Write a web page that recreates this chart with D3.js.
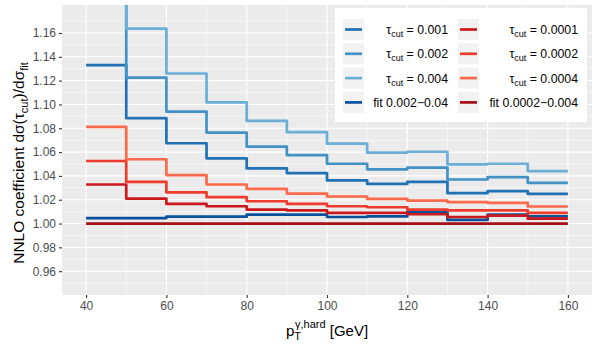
<!DOCTYPE html>
<html>
<head>
<meta charset="utf-8">
<script src="https://cdn.jsdelivr.net/npm/d3@7"></script>
<style>
body{margin:0;background:#fff;}
text{font-family:"Liberation Sans",Arial,sans-serif;}
</style>
</head>
<body>
<svg id="chart" width="600" height="350"></svg>
<script>
// bin edges (pT, GeV)
var edges = [40,50,60,70,80,90,100,110,120,130,140,150,160];

// one value per bin
var tau001 = [1.133,1.0885,1.0674,1.0548,1.0463,1.0424,1.0362,1.0333,1.035,1.0255,1.0272,1.0249];
var tau002 = [1.21,1.1225,1.094,1.0764,1.0646,1.0575,1.0502,1.0455,1.0469,1.037,1.039,1.0342];
var tau004 = [1.25,1.1636,1.126,1.1017,1.0862,1.0767,1.0671,1.0595,1.0603,1.0497,1.0502,1.044];
var fitBlue = [1.0046,1.0046,1.0058,1.0058,1.0075,1.0075,1.0055,1.006,1.0097,1.003,1.0075,1.006];
var tau0001 = [1.0328,1.021,1.0165,1.0145,1.0117,1.011,1.009,1.009,1.0078,1.0055,1.0067,1.0041];
var tau0002 = [1.0525,1.035,1.0261,1.0221,1.0187,1.0165,1.0145,1.0137,1.0117,1.011,1.011,1.009];
var tau0004 = [1.0812,1.054,1.0407,1.0328,1.0291,1.0252,1.0227,1.0207,1.0193,1.0179,1.0173,1.0143];
var fitRed = [1.0,1.0,1.0,1.0,1.0,1.0,1.0,1.0,1.0,1.0,1.0,1.0];

var xTicks = [40,60,80,100,120,140,160];
var yTicks = [0.96,0.98,1.00,1.02,1.04,1.06,1.08,1.10,1.12,1.14,1.16];

// legend order (column-wise, like ggplot)
var series = [
  {kind:"tau", val:"0.001", data:tau001, color:"#2171b5"},
  {kind:"tau", val:"0.002", data:tau002, color:"#4292c6"},
  {kind:"tau", val:"0.004", data:tau004, color:"#6baed6"},
  {kind:"fit", val:"0.002\u22120.04", data:fitBlue, color:"#08519c"},
  {kind:"tau", val:"0.0001", data:tau0001, color:"#cb181d"},
  {kind:"tau", val:"0.0002", data:tau0002, color:"#ef3b2c"},
  {kind:"tau", val:"0.0004", data:tau0004, color:"#fb6a4a"},
  {kind:"fit", val:"0.0002\u22120.004", data:fitRed, color:"#a50f15"}
];

var panel = {left:62, right:592, top:5, bottom:295};

var xScale = d3.scaleLinear().domain([34,166]).range([panel.left,panel.right]);
var yScale = d3.scaleLinear().domain([0.94,1.1835]).range([panel.bottom,panel.top]);

var svg = d3.select("#chart");

svg.append("defs").append("clipPath").attr("id","clip")
  .append("rect")
  .attr("x",panel.left).attr("y",panel.top)
  .attr("width",panel.right-panel.left).attr("height",panel.bottom-panel.top);

svg.append("rect")
  .attr("x",panel.left).attr("y",panel.top)
  .attr("width",panel.right-panel.left).attr("height",panel.bottom-panel.top)
  .attr("fill","#ebebeb");

// grid lines
var grid = svg.append("g");
var yMinor = d3.range(0.95,1.18,0.02);
grid.selectAll(".ymin").data(yMinor).enter().append("line")
  .attr("x1",panel.left).attr("x2",panel.right)
  .attr("y1",function(d){return yScale(d);}).attr("y2",function(d){return yScale(d);})
  .attr("stroke","#fff").attr("stroke-width",0.55);
grid.selectAll(".xmin").data([50,70,90,110,130,150]).enter().append("line")
  .attr("y1",panel.top).attr("y2",panel.bottom)
  .attr("x1",function(d){return xScale(d);}).attr("x2",function(d){return xScale(d);})
  .attr("stroke","#fff").attr("stroke-width",0.55);
grid.selectAll(".ymaj").data(yTicks).enter().append("line")
  .attr("x1",panel.left).attr("x2",panel.right)
  .attr("y1",function(d){return yScale(d);}).attr("y2",function(d){return yScale(d);})
  .attr("stroke","#fff").attr("stroke-width",1.1);
grid.selectAll(".xmaj").data(xTicks).enter().append("line")
  .attr("y1",panel.top).attr("y2",panel.bottom)
  .attr("x1",function(d){return xScale(d);}).attr("x2",function(d){return xScale(d);})
  .attr("stroke","#fff").attr("stroke-width",1.1);

// step lines
var line = d3.line()
  .x(function(d){return xScale(d[0]);})
  .y(function(d){return yScale(d[1]);})
  .curve(d3.curveStepAfter);

var lines = svg.append("g").attr("clip-path","url(#clip)");
series.forEach(function(s){
  var pts = edges.map(function(e,i){
    return [e, s.data[Math.min(i,s.data.length-1)]];
  });
  lines.append("path")
    .attr("d",line(pts))
    .attr("fill","none")
    .attr("stroke",s.color)
    .attr("stroke-width",2.7)
    .attr("stroke-linejoin","round");
});

// axes
var xAxis = d3.axisBottom(xScale).tickValues(xTicks).tickSize(3).tickPadding(3)
  .tickFormat(d3.format("d"));
var gx = svg.append("g").attr("transform","translate(0,"+panel.bottom+")").call(xAxis);
var yAxis = d3.axisLeft(yScale).tickValues(yTicks).tickSize(3).tickPadding(3)
  .tickFormat(d3.format(".2f"));
var gy = svg.append("g").attr("transform","translate("+panel.left+",0)").call(yAxis);
[gx,gy].forEach(function(g){
  g.select(".domain").remove();
  g.selectAll(".tick line").attr("stroke","#333").attr("stroke-width",1.1);
  g.selectAll(".tick text").attr("fill","#4d4d4d").style("font-size","12px")
   .style("font-family","Liberation Sans, Arial, sans-serif");
});

// axis titles
var xt = svg.append("text")
  .attr("x",(panel.left+panel.right)/2).attr("y",336)
  .attr("text-anchor","middle").style("font-size","15px").attr("fill","#000");
xt.append("tspan").text("p");
xt.append("tspan").attr("dy",4).style("font-size","11px").text("T");
xt.append("tspan").attr("dx",-6).attr("dy",-12).style("font-size","11px").text("\u03b3,hard");
xt.append("tspan").attr("dy",8).text(" [GeV]");

var yt = svg.append("text")
  .attr("transform","translate(24,163) rotate(-90)")
  .attr("text-anchor","middle").style("font-size","15.5px").attr("fill","#000");
yt.append("tspan").text("NNLO coefficient d\u03c3(\u03c4");
yt.append("tspan").attr("dy",4).style("font-size","11px").text("cut");
yt.append("tspan").attr("dy",-4).text(")/d\u03c3");
yt.append("tspan").attr("dy",4).style("font-size","11px").text("fit");

// legend
var legend = svg.append("g");
legend.append("rect")
  .attr("x",335).attr("y",8).attr("width",252).attr("height",114)
  .attr("fill","#fff");

var items = legend.selectAll(".item").data(series).enter().append("g")
  .attr("transform",function(d,i){
    var col = Math.floor(i/4), row = i%4;
    return "translate("+(343+col*115)+","+(19+row*24.3)+")";
  });
items.append("rect").attr("width",21).attr("height",21).attr("fill","#f2f2f2");
items.append("line")
  .attr("x1",2).attr("x2",19).attr("y1",10.5).attr("y2",10.5)
  .attr("stroke",function(d){return d.color;}).attr("stroke-width",2.7);
var lt = items.append("text")
  .attr("x",function(d,i){return i<4 ? 105 : 120;}).attr("y",15)
  .attr("text-anchor","end").style("font-size","12.3px").attr("fill","#000");
lt.each(function(d){
  var t = d3.select(this);
  if(d.kind=="fit"){
    t.text("fit "+d.val);
  } else {
    t.append("tspan").text("\u03c4");
    t.append("tspan").attr("dy",3).style("font-size","9px").text("cut");
    t.append("tspan").attr("dy",-3).text(" = "+d.val);
  }
});
</script>
</body>
</html>
